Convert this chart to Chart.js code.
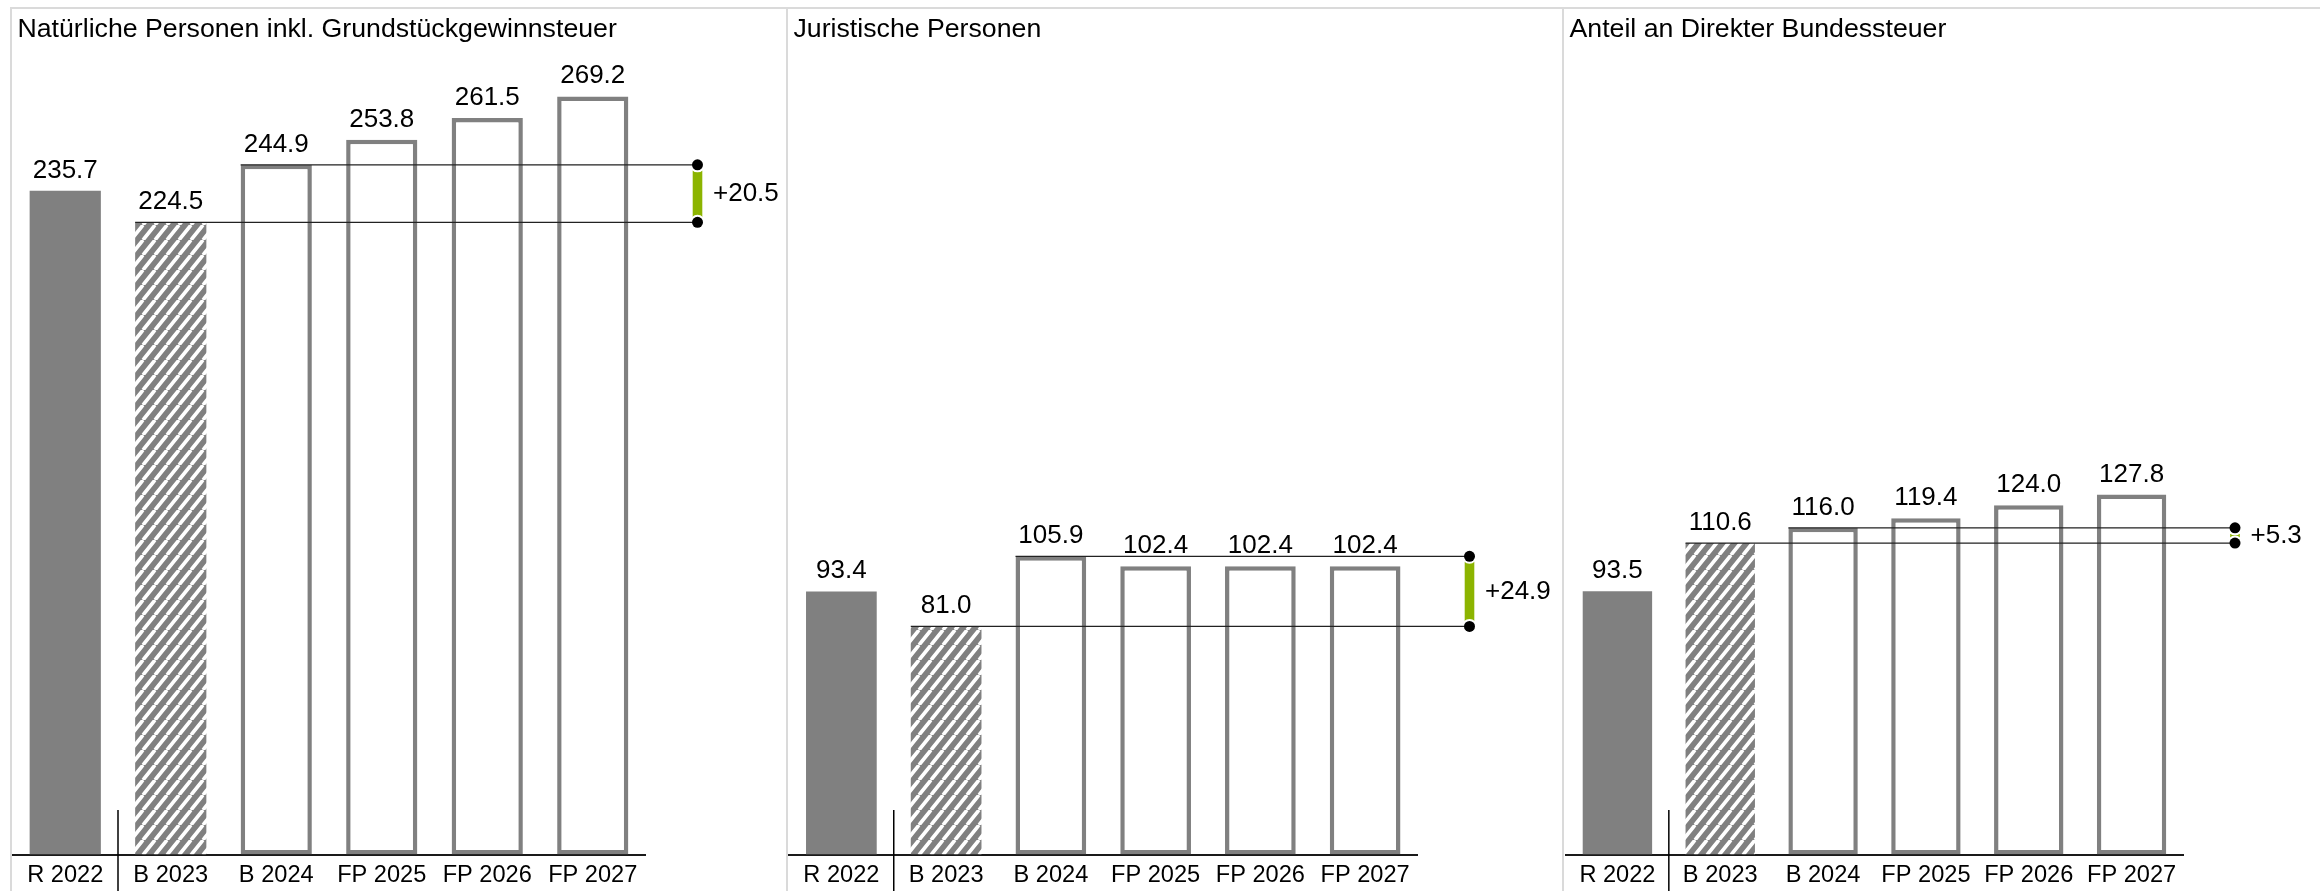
<!DOCTYPE html>
<html><head><meta charset="utf-8">
<script src="https://cdn.jsdelivr.net/npm/chart.js@4.4.1/dist/chart.umd.min.js"></script>
<style>
html,body{margin:0;padding:0;background:#fff;}
body{width:2320px;height:891px;position:relative;overflow:hidden;}
canvas{position:absolute;top:0;}
.frame{position:absolute;background:#dadada;}
</style></head><body>
<canvas id="c0"></canvas>
<canvas id="c1"></canvas>
<canvas id="c2"></canvas>
<div class="frame" style="left:10px;top:7px;width:2310px;height:2px"></div>
<div class="frame" style="left:10px;top:7px;width:1.5px;height:884px"></div>
<div class="frame" style="left:786px;top:7px;width:1.5px;height:884px"></div>
<div class="frame" style="left:1562px;top:7px;width:1.5px;height:884px"></div>
<script>
// ---- data ----
const categories = ['R 2022', 'B 2023', 'B 2024', 'FP 2025', 'FP 2026', 'FP 2027'];
const natuerlichePersonen = [235.7, 224.5, 244.9, 253.8, 261.5, 269.2];
const juristischePersonen = [93.4, 81.0, 105.9, 102.4, 102.4, 102.4];
const anteilBundessteuer = [93.5, 110.6, 116.0, 119.4, 124.0, 127.8];
const panelTitles = ['Natürliche Personen inkl. Grundstückgewinnsteuer', 'Juristische Personen', 'Anteil an Direkter Bundessteuer'];
const deltaValues = [20.5, 24.9, 5.3];
const yMax = 290;

// ---- layout / style ----
const panelLayout = [
  { left: 11,   width: 776, padL: 1.5, padR: 141.5 },
  { left: 787,  width: 776, padL: 2,   padR: 145.5 },
  { left: 1563, width: 757, padL: 3,   padR: 137 }
];
const H = 891, baseY = 854.5, pxPerUnit = 2.816;
const FONT = '"Liberation Sans", Arial, sans-serif';
const GREY = '#808080';

function makeHatch(ctx) {
  const w = 12, h = 15;
  const c = document.createElement('canvas');
  c.width = w; c.height = h;
  const g = c.getContext('2d');
  g.fillStyle = GREY; g.fillRect(0, 0, w, h);
  g.strokeStyle = '#fff'; g.lineWidth = 3.6;
  g.beginPath();
  for (let k = -1; k <= 1; k++) { g.moveTo(k * w, h); g.lineTo(k * w + w, 0); }
  g.stroke();
  return ctx.createPattern(c, 'repeat');
}

const annotPlugin = {
  id: 'annot',
  afterDatasetsDraw(chart, args, opts) {
    const { ctx, chartArea } = chart;
    const xs = chart.scales.x, ys = chart.scales.y;
    const vals = chart.data.datasets[0].data;
    const meta = chart.getDatasetMeta(0);
    ctx.save();
    // separator between actual and budget
    const sepX = (xs.getPixelForValue(0) + xs.getPixelForValue(1)) / 2;
    ctx.strokeStyle = '#000'; ctx.lineWidth = 1.5;
    ctx.beginPath(); ctx.moveTo(sepX, 810); ctx.lineTo(sepX, chart.height); ctx.stroke();
    // difference bracket
    const bx = chartArea.right + 52;
    const yA = ys.getPixelForValue(vals[1]);
    const yB = ys.getPixelForValue(vals[2]);
    const leftA = meta.data[1].x - meta.data[1].width / 2;
    const leftB = meta.data[2].x - meta.data[2].width / 2;
    ctx.fillStyle = '#8CB400';
    ctx.fillRect(bx - 4.8, Math.min(yA, yB), 9.6, Math.abs(yA - yB));
    ctx.fillStyle = '#fff';
    [yA, yB].forEach(y => { ctx.beginPath(); ctx.arc(bx, y, 7.5, 0, Math.PI * 2); ctx.fill(); });
    ctx.strokeStyle = '#222'; ctx.lineWidth = 1.3;
    ctx.beginPath();
    ctx.moveTo(leftA, yA); ctx.lineTo(bx, yA);
    ctx.moveTo(leftB, yB); ctx.lineTo(bx, yB);
    ctx.stroke();
    ctx.fillStyle = '#000';
    [yA, yB].forEach(y => { ctx.beginPath(); ctx.arc(bx, y, 5.5, 0, Math.PI * 2); ctx.fill(); });
    // value labels
    ctx.font = '26px ' + FONT;
    ctx.fillStyle = '#000'; ctx.textAlign = 'center'; ctx.textBaseline = 'alphabetic';
    meta.data.forEach((bar, i) => { ctx.fillText(vals[i].toFixed(1), bar.x, bar.y - 13); });
    // delta label
    ctx.textAlign = 'left'; ctx.textBaseline = 'middle';
    ctx.fillText('+' + opts.delta.toFixed(1), bx + 15.5, (yA + yB) / 2);
    // title
    ctx.font = '26.7px ' + FONT;
    ctx.textBaseline = 'alphabetic';
    ctx.fillText(opts.title, 6.5, 36.7);
    ctx.restore();
  }
};

const series = [natuerlichePersonen, juristischePersonen, anteilBundessteuer];
series.forEach((vals, p) => {
  const L = panelLayout[p];
  const cv = document.getElementById('c' + p);
  cv.width = L.width; cv.height = H;
  cv.style.left = L.left + 'px';
  cv.style.width = L.width + 'px'; cv.style.height = H + 'px';
  const ctx = cv.getContext('2d');
  const hatch = makeHatch(ctx);
  new Chart(ctx, {
    type: 'bar',
    data: {
      labels: categories,
      datasets: [{
        data: vals,
        backgroundColor: [GREY, hatch, '#fff', '#fff', '#fff', '#fff'],
        borderColor: GREY,
        borderWidth: [0, 0, 4.5, 4.5, 4.5, 4.5],
        borderSkipped: false,
        barPercentage: 0.675,
        categoryPercentage: 1
      }]
    },
    options: {
      responsive: false,
      animation: false,
      devicePixelRatio: 1,
      layout: { padding: { left: L.padL, right: L.padR, top: baseY - yMax * pxPerUnit, bottom: 0 } },
      plugins: {
        legend: { display: false },
        tooltip: { enabled: false },
        annot: { title: panelTitles[p], delta: deltaValues[p] }
      },
      scales: {
        x: {
          grid: { display: false, drawTicks: false },
          border: { display: true, color: '#1a1a1a', width: 2 },
          ticks: { color: '#000', font: { family: FONT, size: 23.6 }, padding: 7, maxRotation: 0, autoSkip: false },
          afterFit(s) { s.height = H - baseY; }
        },
        y: { display: false, min: 0, max: yMax }
      }
    },
    plugins: [annotPlugin]
  });
});
</script>
</body></html>
